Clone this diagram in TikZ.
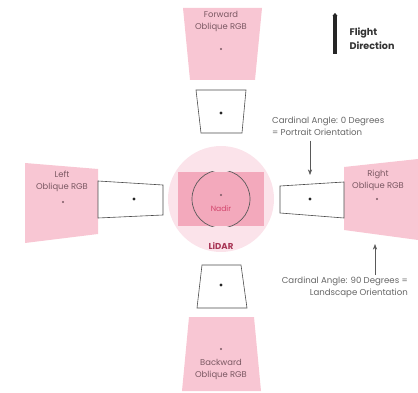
\documentclass[tikz,border=0pt]{standalone}
\usepackage{fontspec}
\setmainfont{Poppins}
\usepackage{tikz}
\usetikzlibrary{arrows.meta, positioning}

\definecolor{footpink}{HTML}{F8C6D3}
\definecolor{lidarpink}{HTML}{FBE3EA}
\definecolor{nadirpink}{HTML}{F3A9BC}
\definecolor{labelgrey}{HTML}{7A5862}
\definecolor{nadirred}{HTML}{D2446B}

\begin{document}
\begin{tikzpicture}[
        x=1pt, y=-1pt,
        foot/.style={fill=footpink},
        frame/.style={draw=black!70, line width=0.6pt, fill=white},
        footlabel/.style={font=\fontsize{8.4}{12}\selectfont, text=labelgrey, align=center, inner sep=0pt},
        note/.style={font=\fontsize{8.6}{11.5}\selectfont, text=black!60, inner sep=0pt},
        dot/.style={circle, fill=black!85, inner sep=0pt, minimum size=3.4pt},
        pinkdot/.style={circle, fill=labelgrey, inner sep=0pt, minimum size=2.4pt},
        >=Stealth
    ]
        \useasboundingbox (0,0) rectangle (418,393);

        % LiDAR footprint
        \fill[lidarpink] (221,199) circle (53pt);
        \fill[nadirpink] (178,172) rectangle (264,226);
        \begin{scope}
            \clip (178,172) rectangle (264,226);
            \draw[black!65, line width=0.7pt] (221,199) circle (29pt);
        \end{scope}
        \node[pinkdot] (nadirdot) at (221,195) {};
        \node[font=\fontsize{7.6}{8}\selectfont, text=nadirred] (nadir) at (221,209) {Nadir};
        \node[font=\bfseries\fontsize{8.6}{9}\selectfont, text=nadirred!80!black] (lidar) at (221,246) {LiDAR};

        % Oblique footprints
        \fill[foot] (183,8) -- (262,8) -- (255,80) -- (190,80) -- cycle;
        \fill[foot] (189,317) -- (254,317) -- (261,391) -- (182,391) -- cycle;
        \fill[foot] (25,163) -- (98,169) -- (98,234) -- (25,243) -- cycle;
        \fill[foot] (344,167) -- (418,159) -- (418,240) -- (344,230) -- cycle;

        \node[footlabel] (fwdlab) at (221,21) {Forward\\Oblique RGB};
        \node[pinkdot] (fwddot) at (221,49) {};
        \node[footlabel] (backlab) at (221,369) {Backward\\Oblique RGB};
        \node[pinkdot] (backdot) at (221,349) {};
        \node[footlabel] (leftlab) at (62,181) {Left\\Oblique RGB};
        \node[pinkdot] (leftdot) at (63,202) {};
        \node[footlabel] (rightlab) at (378,180) {Right\\Oblique RGB};
        \node[pinkdot] (rightdot) at (377,199) {};

        % Sensor frames
        \filldraw[frame] (196,90) -- (246,90) -- (242,133) -- (201,133) -- cycle;
        \filldraw[frame] (202,265) -- (241,265) -- (247,308) -- (197,308) -- cycle;
        \filldraw[frame] (98,181) -- (163,185) -- (163,215) -- (98,218) -- cycle;
        \filldraw[frame] (280,186) -- (344,182) -- (344,218) -- (280,213) -- cycle;

        \node[dot] (fwdframe) at (221,113) {};
        \node[dot] (backframe) at (221,285) {};
        \node[dot] (leftframe) at (134,199) {};
        \node[dot] (rightframe) at (310,199) {};

        % Flight direction
        \coordinate (flighttail) at (335,54);
        \coordinate (flighthead) at (335,13);
        \draw[-{Stealth[length=3pt, width=5pt]}, line width=3.4pt, black!85] (flighttail) -- (flighthead);
        \node[font=\bfseries\fontsize{9.6}{14}\selectfont, text=black!80, align=left, anchor=west] (flight) at (346,39) {Flight\\Direction};

        % Cardinal angles
        \node[note, align=left, anchor=north west] (portrait) at (272,117) {Cardinal Angle: 0 Degrees\\= Portrait Orientation};
        \coordinate (rightframetop) at (310,175);
        \draw[->, black!65, line width=0.6pt] (portrait.south -| rightframetop) ++(0,5) -- (rightframetop);
        \node[note, align=right, anchor=north east] (landscape) at (408,277) {Cardinal Angle: 90 Degrees =\\Landscape Orientation};
        \coordinate (rightfoottip) at (375,244);
        \draw[->, black!65, line width=0.6pt] (landscape.north -| rightfoottip) ++(0,-2) -- (rightfoottip);
    \end{tikzpicture}
\end{document}
